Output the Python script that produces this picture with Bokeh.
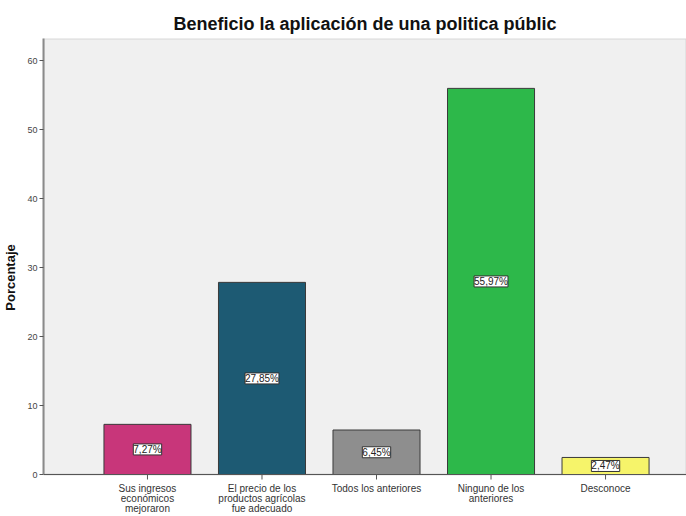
from bokeh.plotting import figure
from bokeh.models import ColumnDataSource, LabelSet, Range1d, FixedTicker, BoxAnnotation, Span
from bokeh.core.properties import value
from bokeh.embed import file_html
from bokeh.resources import INLINE

categories = ["Sus ingresos\neconómicos\nmejoraron",
              "El precio de los\nproductos agrícolas\nfue adecuado",
              "Todos los anteriores",
              "Ninguno de los\nanteriores",
              "Desconoce"]
values = [7.27, 27.85, 6.45, 55.97, 2.47]
value_labels = ["7,27%", "27,85%", "6,45%", "55,97%", "2,47%"]
colors = ["#C8367A", "#1D5A73", "#8E8E8E", "#2DB84A", "#F6F46A"]
y_ticks = [0, 10, 20, 30, 40, 50, 60]

# layout constants (pixels / range ends)
W, H, TOP_BORDER, LEFT_BORDER = 686, 516, 38, 43
ZERO_PX = 474            # pixel row of y = 0
Y_TOP = 63.2
PX_PER_UNIT = (ZERO_PX - TOP_BORDER) / Y_TOP
Y_BOTTOM = -(H - ZERO_PX) / PX_PER_UNIT
LINE_PX = [14, 24, 34]   # pixel offsets below zero of the label lines (centres)
TICK_PX = 5

xs = list(range(len(categories)))
src = ColumnDataSource(dict(x=xs, top=values, mid=[v / 2 for v in values],
                            lab=value_labels, color=colors))

p = figure(width=W, height=H, output_backend="svg", toolbar_location=None,
           x_axis_location=None,
           x_range=Range1d(-0.908, 4.707), y_range=Range1d(Y_BOTTOM, Y_TOP),
           min_border_left=LEFT_BORDER, min_border_right=0,
           min_border_top=TOP_BORDER, min_border_bottom=0)

p.title.text = "Beneficio la aplicación de una politica públic"
p.title.align = "center"
p.title.text_font = "Liberation Sans"
p.title.text_font_size = "18px"
p.title.text_font_style = "bold"
p.title.text_color = "#111111"

p.background_fill_color = "white"
p.border_fill_color = "white"
p.outline_line_color = None
p.xgrid.visible = False
p.ygrid.visible = False

# plot area above zero: light gray with gray border
p.add_layout(BoxAnnotation(bottom=0, fill_color="#F0F0F0", fill_alpha=1,
                           line_color="#9A9A9A", line_width=2, level="underlay"))

p.vbar(x="x", top="top", width=0.76, source=src, fill_color="color",
       line_color="#3A3A3A", line_width=1)

# x axis line and ticks at y = 0
p.add_layout(Span(location=0, dimension="width", line_color="#555555", line_width=1))
p.segment(x0=xs, y0=[0] * len(xs), x1=xs, y1=[-TICK_PX / PX_PER_UNIT] * len(xs),
          line_color="#555555", line_width=1)

labels = LabelSet(x="x", y="mid", text="lab", source=src,
                  text_align="center", text_baseline="middle",
                  text_font=value("Liberation Sans"), text_font_size=value("10px"),
                  text_color="#222222",
                  background_fill_color="white",
                  border_line_color="#333333", border_line_width=1)
p.add_layout(labels)

# category labels, one LabelSet per text line so each line is centred
split = [c.split("\n") for c in categories]
for i, off in enumerate(LINE_PX):
    lx = [x for x, parts in zip(xs, split) if len(parts) > i]
    lt = [parts[i] for parts in split if len(parts) > i]
    s = ColumnDataSource(dict(x=lx, y=[-off / PX_PER_UNIT] * len(lx), t=lt))
    p.add_layout(LabelSet(x="x", y="y", text="t", source=s,
                          text_align="center", text_baseline="middle",
                          text_font=value("Liberation Sans"),
                          text_font_size=value("10px"), text_color="#333333"))

p.yaxis.ticker = FixedTicker(ticks=y_ticks)
p.yaxis.bounds = (0, Y_TOP)
p.yaxis.axis_label = "Porcentaje"
p.yaxis.axis_label_text_font = "Liberation Sans"
p.yaxis.axis_label_text_font_size = "13px"
p.yaxis.axis_label_text_font_style = "bold"
p.yaxis.axis_label_text_color = "#111111"
p.yaxis.axis_label_standoff = 6
p.yaxis.major_label_text_font = "Liberation Sans"
p.yaxis.major_label_text_font_size = "9px"
p.yaxis.major_label_text_color = "#444444"
p.yaxis.major_label_standoff = 2
p.yaxis.major_tick_in = 0
p.yaxis.major_tick_out = 4
p.yaxis.minor_tick_line_color = None
p.yaxis.axis_line_color = "#8A8A8A"
p.yaxis.axis_line_width = 2
p.yaxis.major_tick_line_color = "#555555"

open("out.html", "w").write(file_html(p, INLINE))
